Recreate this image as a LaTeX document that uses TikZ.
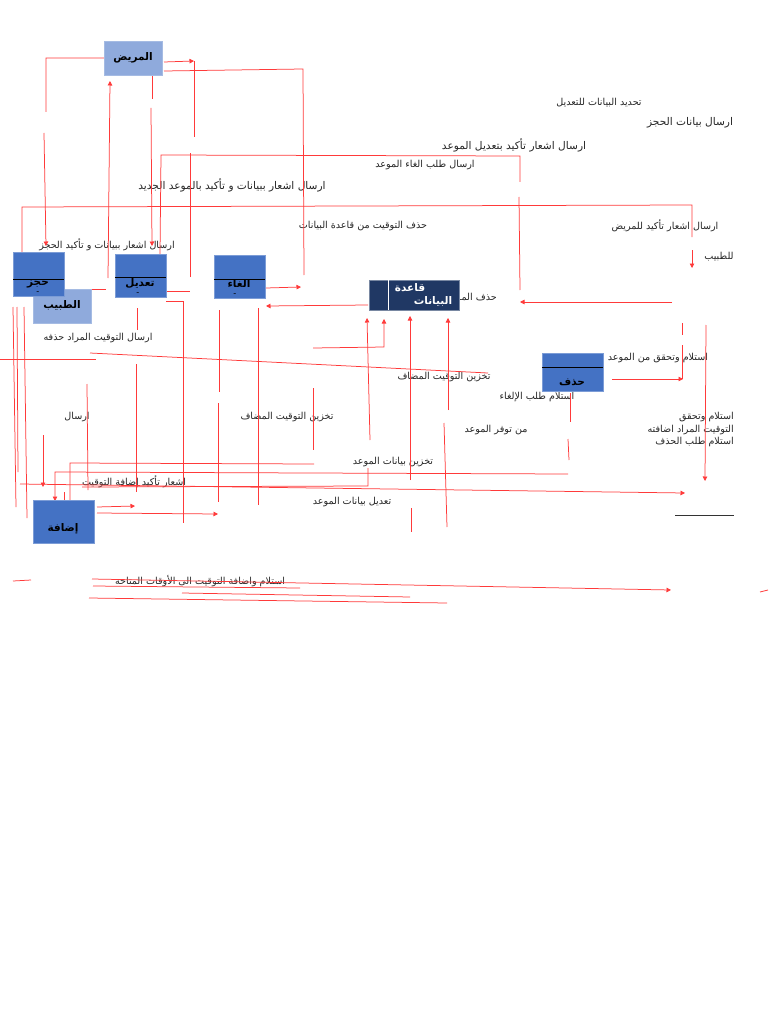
\documentclass[tikz,border=0pt]{standalone}
\usepackage{fontspec}
\newfontfamily\arabicfont[Script=Arabic]{DejaVu Sans}
\TeXXeTstate=1
\usetikzlibrary{arrows.meta}
\newcommand{\artx}[1]{\beginR #1\endR}
\definecolor{lightbox}{HTML}{8FAADC}
\definecolor{midbox}{HTML}{4472C4}
\definecolor{navybox}{HTML}{203864}
\definecolor{wire}{HTML}{FF3A3A}
\begin{document}
\begin{tikzpicture}[x=1pt,y=-1pt,
  lbl/.style={inner sep=0pt, font=\arabicfont\fontsize{9.6}{10}\selectfont, text=black!85},
  lblbig/.style={inner sep=0pt, font=\arabicfont\fontsize{10.6}{11}\selectfont, text=black!85},
  wireline/.style={draw=wire, line width=0.75pt},
  wirearrow/.style={wireline, -{Triangle[length=4.5pt,width=4.5pt]}},
  lightproc/.style={fill=lightbox, draw=lightbox!80!white, line width=0.4pt, inner sep=0pt},
  midproc/.style={fill=midbox, draw=midbox!70!white, line width=0.4pt, inner sep=0pt},
  boxtxt/.style={inner sep=0pt, font=\arabicfont\bfseries\fontsize{10.5}{11}\selectfont, text=black},
  dashtxt/.style={inner sep=0pt, font=\bfseries\fontsize{6}{6}\selectfont, text=black}
]
\useasboundingbox[fill=white] (0,0) rectangle (768,1024);

% ---------- text labels ----------
\node[lbl] (t1) at (599,103) {\artx{تحديد البيانات للتعديل}};
\node[lblbig] (t2) at (690,123) {\artx{ارسال بيانات الحجز}};
\node[lblbig] (t3) at (514,145) {\artx{ارسال اشعار تأكيد بتعديل الموعد}};
\node[lbl] (t4) at (425,165) {\artx{ارسال طلب الغاء الموعد}};
\node[lblbig] (t5) at (232,185) {\artx{ارسال اشعار ببيانات و تأكيد بالموعد الجديد}};
\node[lbl] (t6) at (363,226) {\artx{حذف التوقيت من قاعدة البيانات}};
\node[lbl] (t7) at (665,226) {\artx{ارسال اشعار تأكيد للمريض}};
\node[lbl] (t8) at (719,257) {\artx{للطبيب}};
\node[lbl] (t9) at (107,245) {\artx{ارسال اشعار ببيانات و تأكيد الحجز}};
\node[lbl, anchor=east] (t10) at (497,297) {\artx{حذف المـ}};
\node[lbl] (t11) at (98,338) {\artx{ارسال التوقيت المراد حذفه}};
\node[lbl] (t12) at (658,358) {\artx{استلام وتحقق من الموعد}};
\node[lbl] (t13) at (444,377) {\artx{تخزين التوقيت المضاف}};
\node[lbl] (t14) at (537,397) {\artx{استلام طلب الإلغاء}};
\node[lbl] (t15) at (77,417) {\artx{ارسال}};
\node[lbl] (t16) at (287,417) {\artx{تخزين التوقيت المضاف}};
\node[lbl] (t17) at (496,430) {\artx{من توفر الموعد}};
\node[lbl, anchor=east] (t18) at (734,417) {\artx{استلام وتحقق}};
\node[lbl, anchor=east] (t19) at (734,430) {\artx{التوقيت المراد اضافته}};
\node[lbl, anchor=east] (t20) at (734,442) {\artx{استلام طلب الحذف}};
\node[lbl] (t21) at (393,462) {\artx{تخزين بيانات الموعد}};
\node[lbl] (t22) at (134,482) {\artx{اشعار تأكيد إضافة التوقيت}};
\node[lbl] (t23) at (352,502) {\artx{تعديل بيانات الموعد}};
\node[lbl] (t24) at (200,581) {\artx{استلام واضافة التوقيت الى الأوقات المتاحة}};

% ---------- red connectors ----------
% from patient
\draw[wirearrow] (104,58) -- (46,58) -- (46,112) (44,133) -- (46,246);
\draw[wirearrow] (108,278) -- (110,81);
\draw[wireline] (152,75) -- (152,99);
\draw[wirearrow] (151,108) -- (152,246);
\draw[wirearrow] (164,62) -- (194,61);
\draw[wireline] (194,61) -- (194,137);
\draw[wireline] (164,71) -- (303,69) -- (304,275);
% cancel / modify wires
\draw[wireline] (160,254) -- (161,155) -- (520,156) -- (520,182);
\draw[wireline] (190,277) -- (190,153);
\draw[wireline] (519,197) -- (520,290);
\draw[wirearrow] (672,302) -- (520,302);
% long horizontal at 206
\draw[wireline] (22,252) -- (22,207) -- (692,205) -- (692,237);
\draw[wirearrow] (692,250) -- (692,268);
% around boxes
\draw[wireline] (64,289) -- (106,289);
\draw[wireline] (166,291) -- (190,291);
\draw[wireline] (166,301) -- (183,301) -- (183,523);
\draw[wirearrow] (266,288) -- (301,287);
\draw[wirearrow] (368,305) -- (266,306);
\draw[wireline] (258,308) -- (258,505);
\draw[wireline] (219,310) -- (219,392);
\draw[wireline] (218,403) -- (218,502);
\draw[wireline] (137,308) -- (137,330);
\draw[wireline] (136,364) -- (136,492);
\draw[wireline] (87,384) -- (88,490);
\draw[wireline] (13,307) -- (16,507);
\draw[wireline] (17,307) -- (18,472);
\draw[wireline] (24,307) -- (27,518);
\draw[wireline] (0,359) -- (96,359);
\draw[wireline] (90,353) -- (488,373);
% into database
\draw[wirearrow] (313,348) -- (384,347) -- (384,319);
\draw[wirearrow] (370,440) -- (367,318);
\draw[wirearrow] (410,480) -- (410,316);
\draw[wireline] (411,508) -- (411,532);
\draw[wirearrow] (448,410) -- (448,318);
\draw[wireline] (444,423) -- (447,527);
\draw[wireline] (313,388) -- (313,450);
% delete box
\draw[wireline] (570,393) -- (570,422);
\draw[wireline] (568,439) -- (569,460);
\draw[wireline] (682,323) -- (682,335);
\draw[wireline] (682,345) -- (682,379);
\draw[wirearrow] (612,379) -- (683,379);
\draw[wirearrow] (706,325) -- (705,481);
% lower area
\draw[wirearrow] (20,484) -- (685,493);
\draw[wirearrow] (43,435) -- (43,487);
\draw[wirearrow] (568,474) -- (55,472) -- (55,501);
\draw[wireline] (314,464) -- (70,463) -- (70,505);
\draw[wireline] (64,492) -- (64,507);
\draw[wireline] (368,468) -- (368,486) -- (82,487);
\draw[wirearrow] (97,507) -- (135,506);
\draw[wirearrow] (97,513) -- (218,514);
% bottom wires
\draw[wireline] (13,581) -- (31,580);
\draw[wirearrow] (92,579) -- (671,590);
\draw[wireline] (93,586) -- (300,588);
\draw[wireline] (182,593) -- (410,597);
\draw[wireline] (89,598) -- (447,603);
\draw[wireline] (760,592) -- (768,590);
% black rule
\draw[black!80, line width=0.8pt] (675,515) -- (734,515);

% ---------- boxes ----------
\node[lightproc, minimum width=58pt, minimum height=34pt] (patient) at (133,58) {};
\node[boxtxt] (patientlbl) at (133,58) {\artx{المريض}};

\node[lightproc, minimum width=58pt, minimum height=34pt] (doctor) at (62,306) {};
\node[boxtxt] (doctorlbl) at (62,305) {\artx{الطبيب}};

\node[midproc, minimum width=51pt, minimum height=44pt] (hajz) at (38.5,274) {};
\draw[black, line width=0.8pt] (hajz.west |- 0,279) -- (hajz.east |- 0,279);
\node[boxtxt] (hajzlbl) at (38,284) {\artx{حجز}};
\node[dashtxt] (hajzdash) at (38,293) {-};

\node[midproc, minimum width=51pt, minimum height=43pt] (taadil) at (140.5,275.5) {};
\draw[black, line width=0.8pt] (taadil.west |- 0,277) -- (taadil.east |- 0,277);
\node[boxtxt] (taadillbl) at (140,283) {\artx{تعديل}};
\node[dashtxt] (taadildash) at (138,293.5) {-};

\node[midproc, minimum width=51pt, minimum height=43pt] (ilgha) at (239.5,276.5) {};
\draw[black, line width=0.8pt] (ilgha.west |- 0,279) -- (ilgha.east |- 0,279);
\node[boxtxt] (ilghalbl) at (239,284) {\artx{الغاء}};
\node[dashtxt] (ilghadash) at (235,294.5) {-};

\node[fill=navybox, draw=navybox!60!white, line width=0.4pt, minimum width=90pt, minimum height=30pt, inner sep=0pt] (db) at (414,295) {};
\draw[white, line width=0.8pt] (388,280) -- (388,310);
\node[boxtxt, text=white] (dblbl1) at (410,288) {\artx{قاعدة}};
\node[boxtxt, text=white] (dblbl2) at (433,301) {\artx{البيانات}};

\node[midproc, minimum width=61pt, minimum height=38pt] (hadhf) at (572.5,372) {};
\draw[black, line width=0.8pt] (hadhf.west |- 0,367) -- (hadhf.east |- 0,367);
\node[boxtxt] (hadhflbl) at (572,382) {\artx{حذف}};

\node[midproc, minimum width=61pt, minimum height=43pt] (idafa) at (63.5,521.5) {};
\node[boxtxt] (idafalbl) at (63,529) {\artx{إضافة}};
\end{tikzpicture}
\end{document}
